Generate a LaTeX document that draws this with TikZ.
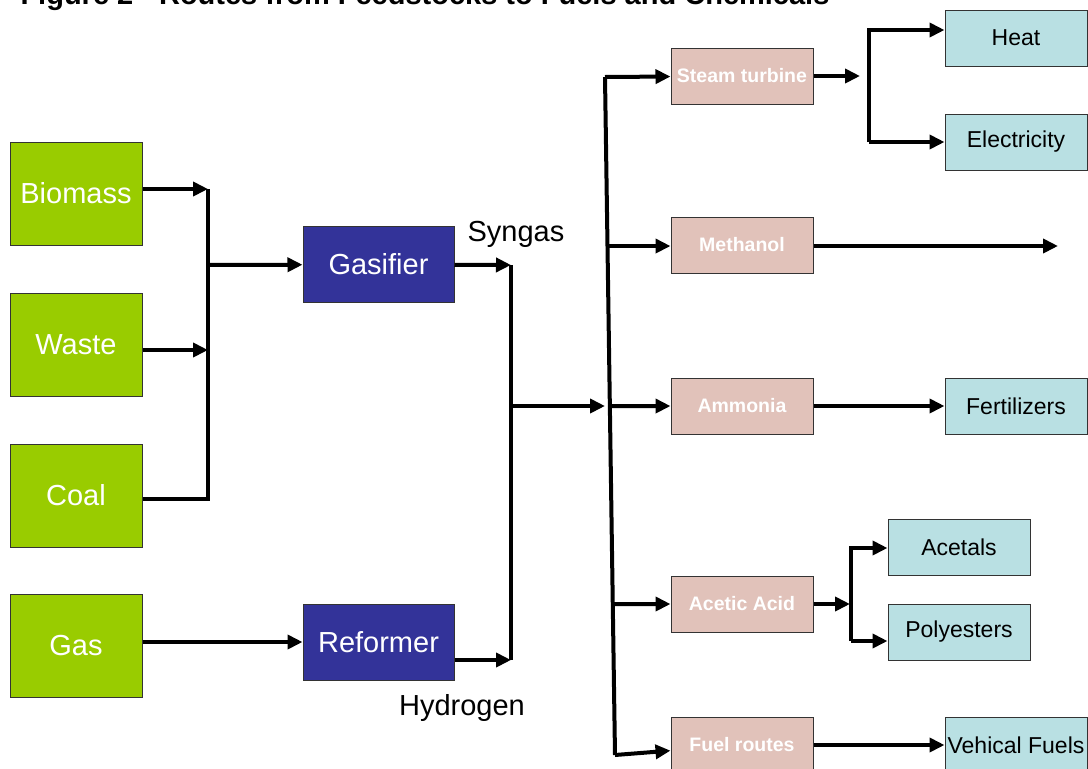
\documentclass[tikz,border=0pt]{standalone}
\usepackage{fontspec}
\setmainfont{Liberation Sans}
\usetikzlibrary{arrows.meta,calc}
\definecolor{feedgreen}{RGB}{153,204,0}
\definecolor{procblue}{RGB}{51,51,153}
\definecolor{chempink}{RGB}{225,194,186}
\definecolor{prodcyan}{RGB}{185,224,227}

\begin{document}
\begin{tikzpicture}[x=1pt,y=-1pt,line width=4pt,line join=miter,
        >={Triangle[length=15pt,width=14pt]},
        every node/.style={inner sep=0pt,draw=black!80,line width=1pt},
        feed/.style={fill=feedgreen,text=white,minimum width=132pt,minimum height=103pt,
          font=\fontsize{29}{34}\selectfont},
        proc/.style={fill=procblue,text=white,minimum width=151pt,minimum height=76pt,
          font=\fontsize{29}{34}\selectfont},
        chem/.style={fill=chempink,text=white,minimum width=142pt,minimum height=56pt,
          font=\fontsize{19.5}{22}\selectfont\bfseries},
        prod/.style={fill=prodcyan,text=black,minimum width=142pt,minimum height=56pt,
          font=\fontsize{23}{27}\selectfont},
        lbl/.style={draw=none,font=\fontsize{29}{34}\selectfont}]
       \clip(0,0)rectangle(1088,769);
       \node[draw=none,anchor=base west,font=\fontsize{29}{34}\selectfont\bfseries](title)at(20,4)
         {Figure 2 - Routes from Feedstocks to Fuels and Chemicals};
       % feedstocks
       \node[feed](bio)at(76,193.5){Biomass};
       \node[feed](waste)at(76,344.5){Waste};
       \node[feed](coal)at(76,495.5){Coal};
       \node[feed](gas)at(76,645.5){Gas};
       % conversion
       \node[proc](gasifier)at(378.5,264.5){Gasifier};
       \node[proc](reformer)at(378.5,642){Reformer};
       \node[lbl](syngas)at(516,234){Syngas};
       \node[lbl](hydrogen)at(462,708){Hydrogen};
       % chemicals
       \node[chem](steam)at(742,76){Steam turbine};
       \node[chem](methanol)at(742,245){Methanol};
       \node[chem](ammonia)at(742,406){Ammonia};
       \node[chem](acetic)at(742,604){Acetic Acid};
       \node[chem](fuel)at(742,745){Fuel routes};
       % products
       \node[prod](heat)at(1016,38){Heat};
       \node[prod](elec)at(1016,142){Electricity};
       \node[prod](fert)at(1016,406){Fertilizers};
       \node[prod](acetals)at(959,547){Acetals};
       \node[prod](poly)at(959,632){Polyesters};
       \node[prod](vehfuel)at(1016,745){Vehical Fuels};
       % junctions
       \coordinate(mTop)at(208,189);
       \coordinate(mWaste)at(208,350);
       \coordinate(mMid)at(208,265);
       \coordinate(mBot)at(208,499);
       \coordinate(sTop)at(511,265);
       \coordinate(sMid)at(511,406);
       \coordinate(sBot)at(511,660);
       \coordinate(hub)at(605,406);
       \coordinate(bTop)at(605,77);
       \coordinate(bBot)at(615,755);
       \coordinate(b2)at($(bTop)!0.2493!(bBot)$);
       \coordinate(b3)at($(bTop)!0.4853!(bBot)$);
       \coordinate(b4)at($(bTop)!0.7773!(bBot)$);
       \coordinate(stOut)at(860,76);
       \coordinate(hTop)at(869,30);
       \coordinate(hBot)at(869,142);
       \coordinate(mEnd)at(1058,246);
       \coordinate(aOut)at(850,604);
       \coordinate(aTop)at(851,548);
       \coordinate(aBot)at(851,641);
       % feeds to gasifier and reformer
       \draw[->](bio.east|-mTop)--(mTop);
       \draw[->](waste.east|-mWaste)--(mWaste);
       \draw(coal.east|-mBot)--(mBot)--(mTop);
       \draw[->](mMid)--(gasifier);
       \draw[->](gas.east|-reformer)--(reformer);
       % syngas and hydrogen
       \draw[->](gasifier)--(sTop);
       \draw[->](reformer.east|-sBot)--(sBot);
       \draw(sTop)--(sBot);
       \draw[->](sMid)--(hub);
       \draw(bTop)--(bBot);
       \draw[->](bTop)--(steam);
       \draw[->](b2)--(b2-|methanol.west);
       \draw[->](b3)--(ammonia);
       \draw[->](b4)--(acetic);
       \draw[->](bBot)--(fuel);
       % to products
       \draw[->](steam)--(stOut);
       \draw[->](hBot)--(hTop)--(heat.west|-hTop);
       \draw[->](hBot)--(elec);
       \draw[->](methanol.east|-mEnd)--(mEnd);
       \draw[->](ammonia)--(fert);
       \draw[->](acetic)--(aOut);
       \draw[->](aBot)--(aTop)--(acetals.west|-aTop);
       \draw[->](aBot)--(poly.west|-aBot);
       \draw[->](fuel)--(vehfuel);
    \end{tikzpicture}
\end{document}
